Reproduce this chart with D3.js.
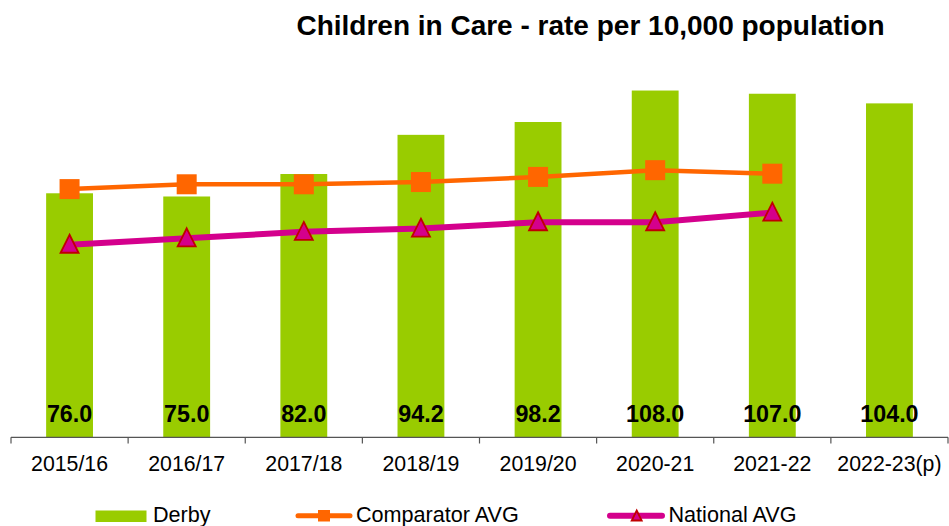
<!DOCTYPE html>
<html><head><meta charset="utf-8">
<script src="https://cdn.jsdelivr.net/npm/d3@7/dist/d3.min.js"></script>
<style>body{margin:0;background:#fff}svg{display:block;font-family:"Liberation Sans",Arial,sans-serif}</style>
</head><body><svg id="c" width="949" height="526"></svg>
<script>
const categories = ["2015/16","2016/17","2017/18","2018/19","2019/20","2020-21","2021-22","2022-23(p)"];
const derby = [76.0,75.0,82.0,94.2,98.2,108.0,107.0,104.0];
const comparator = [77.3,78.8,78.8,79.5,81.1,83.2,82.1,null];
const national = [60,62,64,65,67,67,70,null];
const seriesNames = ["Derby","Comparator AVG","National AVG"];
const title = "Children in Care - rate per 10,000 population";

const svg = d3.select("#c");
const x = d3.scaleBand().domain(categories).range([11,948]).paddingInner(0.6).paddingOuter(0.3);
const y = d3.scaleLinear().domain([0,120]).range([437.3,52]);
const cx = d => x(d) + x.bandwidth()/2;

svg.append("text").attr("x",590.5).attr("y",35).attr("text-anchor","middle")
  .attr("font-size",28).attr("font-weight","bold").text(title);

// bars
svg.append("g").selectAll("rect").data(categories).join("rect")
  .attr("x",d=>x(d)).attr("width",x.bandwidth())
  .attr("y",(d,i)=>y(derby[i])).attr("height",(d,i)=>y(0)-y(derby[i]))
  .attr("fill","#99cc00");

// axis
const step = x.step();
const ax = svg.append("g");
ax.append("line").attr("x1",11).attr("x2",948).attr("y1",437.3).attr("y2",437.3).attr("stroke","#555").attr("stroke-width",1.2);
ax.selectAll("line.t").data(d3.range(categories.length+1)).join("line").attr("class","t")
  .attr("x1",i=>11+i*step).attr("x2",i=>11+i*step).attr("y1",437.3).attr("y2",443.5)
  .attr("stroke","#555").attr("stroke-width",1.2);
ax.selectAll("text").data(categories).join("text")
  .attr("x",d=>cx(d)).attr("y",470.5).attr("text-anchor","middle").attr("font-size",21.3).attr("fill","#000").text(d=>d);

// lines
const line = d3.line().defined(d=>d.v!=null).x(d=>cx(d.c)).y(d=>y(d.v));
const comp = categories.map((c,i)=>({c,v:comparator[i]}));
const nat = categories.map((c,i)=>({c,v:national[i]}));
svg.append("path").datum(comp).attr("d",line).attr("fill","none").attr("stroke","#ff6600").attr("stroke-width",4.5);
svg.append("path").datum(nat).attr("d",line).attr("fill","none").attr("stroke","#d4008c").attr("stroke-width",6);

svg.append("g").selectAll("rect").data(comp.filter(d=>d.v!=null)).join("rect")
  .attr("x",d=>cx(d.c)-10).attr("y",d=>y(d.v)-10).attr("width",20).attr("height",20).attr("fill","#ff6600");

const tri = (px,py,s)=>`M${px},${py-s*0.55}L${px+s/2},${py+s*0.45}L${px-s/2},${py+s*0.45}Z`;
svg.append("g").selectAll("path").data(nat.filter(d=>d.v!=null)).join("path")
  .attr("d",d=>tri(cx(d.c),y(d.v),18)).attr("fill","#d4008c").attr("stroke","#c00000").attr("stroke-width",1.8).attr("stroke-linejoin","miter");

// data labels
svg.append("g").selectAll("text").data(categories).join("text")
  .attr("x",d=>cx(d)).attr("y",421.5).attr("text-anchor","middle").attr("font-size",23.3).attr("font-weight","bold")
  .text((d,i)=>derby[i].toFixed(1));

// legend
const lg = svg.append("g");
lg.append("rect").attr("x",95.5).attr("y",510.5).attr("width",51).attr("height",11.5).attr("fill","#99cc00");
lg.append("text").attr("x",153).attr("y",522).attr("font-size",21.6).text(seriesNames[0]);
lg.append("line").attr("x1",298).attr("x2",350).attr("y1",515.7).attr("y2",515.7).attr("stroke","#ff6600").attr("stroke-width",5).attr("stroke-linecap","round");
lg.append("rect").attr("x",318).attr("y",510).attr("width",12).attr("height",11.5).attr("fill","#ff6600");
lg.append("text").attr("x",356).attr("y",522).attr("font-size",21.6).text(seriesNames[1]);
lg.append("line").attr("x1",610).attr("x2",662).attr("y1",515.7).attr("y2",515.7).attr("stroke","#d4008c").attr("stroke-width",6).attr("stroke-linecap","round");
lg.append("path").attr("d",tri(636.7,516,10)).attr("fill","#d4008c").attr("stroke","#c00000").attr("stroke-width",1.8);
lg.append("text").attr("x",668.5).attr("y",522).attr("font-size",21.6).text(seriesNames[2]);
</script></body></html>
